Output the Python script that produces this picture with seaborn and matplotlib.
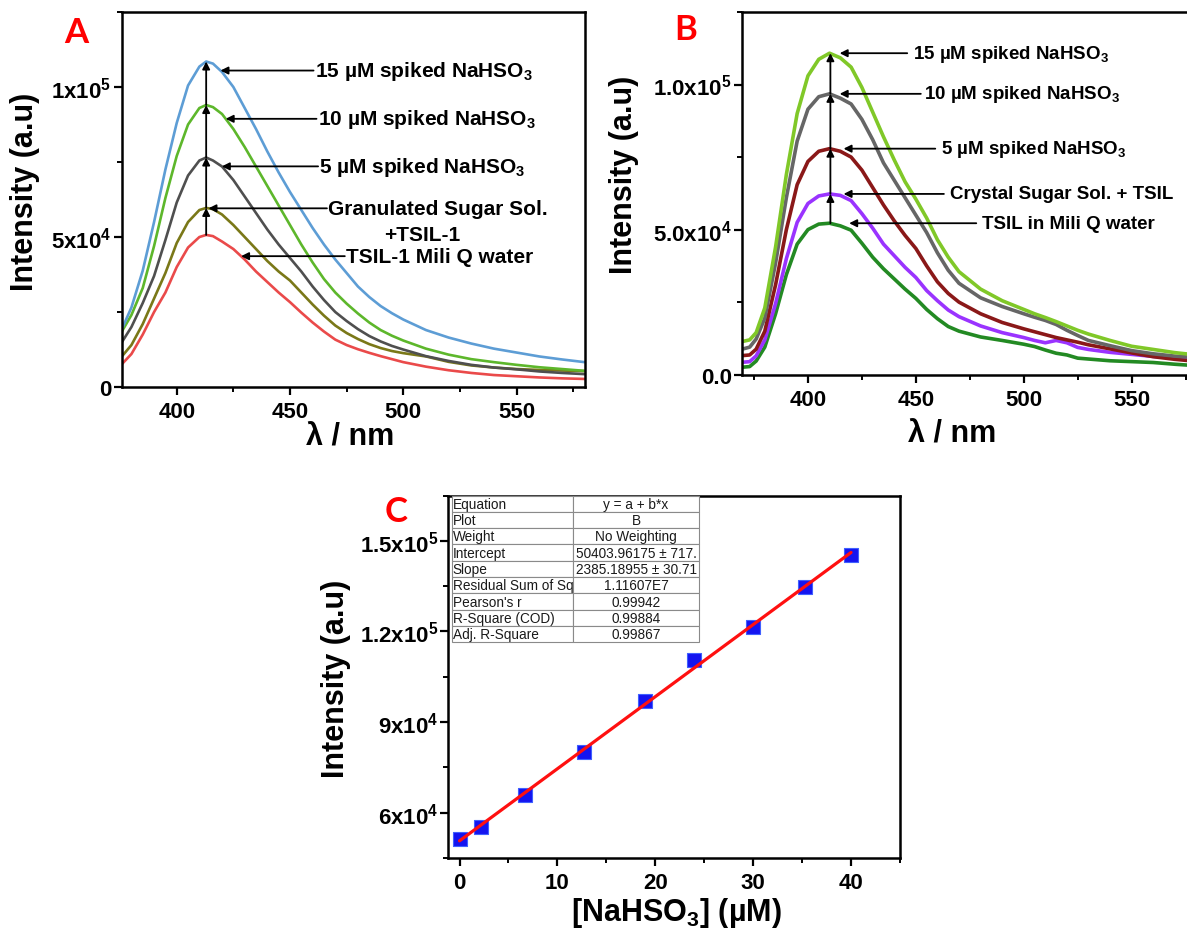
import numpy as np
import seaborn as sns
import matplotlib
matplotlib.use('Agg')
import matplotlib.pyplot as plt
from matplotlib import font_manager
from matplotlib.table import Table
from matplotlib.ticker import MultipleLocator

# ---- panel A : TSIL-1, granulated sugar (intensity in units of 1e3) ----
wl_a = [375, 380, 385, 390, 395, 400, 405, 410, 413, 416, 420, 425, 430, 435, 440, 445,
        450, 455, 460, 465, 470, 475, 480, 485, 490, 495, 500, 510, 520, 530, 540, 550, 560, 570, 580]
a_15uM = [18, 26.5, 38.8, 55, 72.5, 88, 100.5, 106.8, 108.5, 107.8, 105, 100, 93, 86, 78.5, 71.5,
          65, 59, 53, 47.5, 42.5, 38, 33.5, 30, 27, 24.6, 22.5, 19, 16.5, 14.5, 12.8, 11.5, 10.2, 9.2, 8.3]
a_10uM = [17.5, 24, 33, 47, 63, 77, 87.5, 93, 94, 93.3, 91, 86, 80, 73.5, 67, 60.5,
          54, 47.5, 41.5, 36, 31.5, 27.8, 24.5, 21.5, 19, 17.1, 15.5, 12.8, 10.8, 9.3, 8.3, 7.4, 6.6, 6, 5.4]
a_5uM = [14, 20, 28, 37, 49, 61.5, 70.5, 75.5, 76.5, 75.5, 73.5, 69, 63.5, 58, 52.5, 47.5,
         43, 38.5, 33.5, 29, 25, 22, 19.3, 17, 15.2, 13.7, 12.5, 10.3, 8.7, 7.4, 6.5, 5.9, 5.2, 4.7, 4.3]
a_sugar = [9.5, 14, 21, 29.5, 38, 48, 55, 59, 59.7, 59.3, 57.5, 54, 50, 46, 42, 38.5,
           35.5, 31.5, 27.5, 23.8, 20.5, 18, 16, 14.3, 13, 12, 11.3, 10.2, 8.4, 7.2, 6.5, 6, 5.7, 5.5, 5.3]
a_water = [7, 11, 17.5, 25, 31.5, 40, 46.5, 50, 50.7, 50.3, 48.5, 46, 42.5, 38.5, 35, 31.5,
           28.3, 24.8, 21.5, 18.5, 15.8, 14, 12.6, 11.4, 10.3, 9.3, 8.3, 6.8, 5.6, 4.7, 4, 3.6, 3.2, 2.9, 2.7]

# ---- panel B : TSIL, crystal sugar ----
wl_b = [370, 373, 376, 380, 385, 390, 395, 400, 405, 410, 415, 420, 425, 430, 435, 440, 445, 450,
        455, 460, 465, 470, 480, 490, 500, 505, 510, 515, 520, 525, 530, 540, 550, 560, 570, 580]
b_15uM = [11.5, 12, 14.5, 23, 44, 69, 90, 103, 108.7, 110.8, 109.2, 106, 99, 90.5, 82, 74, 66.5, 60.5,
          54, 46.5, 40.5, 35.5, 29.5, 25.5, 22.5, 21, 19.7, 18.3, 16.8, 15.3, 14, 11.8, 9.8, 8.7, 7.6, 6.8]
b_10uM = [8.9, 9.5, 12.3, 19.5, 38.5, 61, 80.5, 91.5, 95.8, 96.8, 95.3, 93.3, 88, 81, 73, 67, 61, 55,
          49, 42, 36, 31.5, 26.5, 23.5, 21, 19.8, 18.7, 17.3, 15.3, 13.5, 11.8, 10, 8.3, 7.2, 6.4, 5.9]
b_5uM = [6.6, 6.8, 8.8, 15, 31, 50, 65.5, 73.5, 77, 77.9, 77, 75, 70.5, 64.5, 58.5, 53, 48, 43.5,
         37.5, 32, 28, 25, 21, 18, 15.8, 14.8, 13.8, 12.8, 12, 11.2, 10.3, 8.9, 7.5, 6.2, 5.3, 4.6]
b_sugar = [4.3, 4.5, 6.5, 12, 24.5, 40, 52.5, 59, 61.6, 62.3, 61.8, 60, 55.5, 50.5, 45, 41, 37, 33.5,
           29, 25.5, 22.3, 20, 16.8, 14.5, 12.8, 11.8, 11, 11.8, 11, 9.4, 8.7, 7.7, 7, 6.3, 5.8, 5.3]
b_water = [2.6, 2.8, 4.7, 9.5, 21, 34.5, 45, 50, 51.9, 52.2, 51.3, 49.8, 45.3, 40.5, 36.5, 33, 29.5, 26.3,
           22.5, 19.3, 16.6, 15, 13, 11.8, 10.5, 9.7, 8.5, 7.4, 6.8, 5.7, 5.4, 4.8, 4.5, 4.2, 3.6, 3.1]

# ---- panel C : calibration ----
conc = [0, 2.2, 6.7, 12.7, 19.0, 24.0, 30.0, 35.3, 40.0]
intensity = [51200, 55400, 66000, 80000, 96900, 110500, 121500, 134800, 145400]
fit_rows = [("Equation", "y = a + b*x"), ("Plot", "B"), ("Weight", "No Weighting"),
            ("Intercept", "50403.96175 \u00b1 717."), ("Slope", "2385.18955 \u00b1 30.71"),
            ("Residual Sum of Sq", "1.11607E7"), ("Pearson's r", "0.99942"),
            ("R-Square (COD)", "0.99884"), ("Adj. R-Square", "0.99867")]

labels_a = ["15 \u00b5M spiked NaHSO$_3$", "10 \u00b5M spiked NaHSO$_3$", "5 \u00b5M spiked NaHSO$_3$",
            "Granulated Sugar Sol.", "TSIL-1 Mili Q water"]
labels_b = ["15 \u00b5M spiked NaHSO$_3$", "10 \u00b5M spiked NaHSO$_3$", "5 \u00b5M spiked NaHSO$_3$",
            "Crystal Sugar Sol. + TSIL", "TSIL in Mili Q water"]

sns.set_style('ticks')
plt.rcParams['font.family'] = ['Liberation Sans', 'DejaVu Sans']
plt.rcParams['mathtext.default'] = 'regular'
for key in ['text.color', 'axes.labelcolor', 'xtick.color', 'ytick.color', 'axes.edgecolor']:
    plt.rcParams[key] = 'black'
names = {f.name for f in font_manager.fontManager.ttflist}
narrow = 'Liberation Sans Narrow' if 'Liberation Sans Narrow' in names else 'Liberation Sans'
tick_font = dict(fontsize=16, fontweight='bold', family=[narrow, 'DejaVu Sans'])

fig = plt.figure(figsize=(11.87, 9.29), dpi=100)
axA = fig.add_axes([0.1025, 0.5823, 0.3907, 0.4037])
axB = fig.add_axes([0.6254, 0.5956, 0.3825, 0.3904])
axC = fig.add_axes([0.3778, 0.0753, 0.3804, 0.3902])


def style_axis(ax):
    for s in ax.spines.values():
        s.set_linewidth(1.8)
        s.set_color('black')
    ax.tick_params(which='major', direction='out', length=6, width=1.6, top=False, right=False)
    ax.tick_params(which='minor', direction='out', length=3.5, width=1.4, top=False, right=False)
    ax.tick_params(axis='y', pad=1.5)
    ax.tick_params(axis='x', pad=4)


def arrow(ax, xy, xytext):
    ax.annotate('', xy=xy, xytext=xytext, zorder=5,
                arrowprops=dict(arrowstyle='-|>', color='black', lw=1.3,
                                mutation_scale=11, shrinkA=0, shrinkB=0))


# ---------------- A ----------------
series_a = [(a_water, '#ea4a4a'), (a_sugar, '#7a7818'), (a_5uM, '#4f4f4f'),
            (a_10uM, '#5db72b'), (a_15uM, '#5d9dd5')]
for vals, col in series_a:
    sns.lineplot(x=wl_a, y=np.array(vals) * 1000, ax=axA, color=col, linewidth=1.9)
axA.set_xlim(375.7, 580.4)
axA.set_ylim(0, 125000)
axA.set_xticks([400, 450, 500, 550], labels=['400', '450', '500', '550'], **tick_font)
axA.set_yticks([0, 50000, 100000], labels=['0', '5x10$^4$', '1x10$^5$'], **tick_font)
axA.xaxis.set_minor_locator(MultipleLocator(25))
axA.yaxis.set_minor_locator(MultipleLocator(25000))
style_axis(axA)

peak_x = wl_a[int(np.argmax(a_water))]
peaks = [max(v) * 1000 for v, _ in series_a]
for lo, hi in zip(peaks[:-1], peaks[1:]):
    arrow(axA, (peak_x, hi), (peak_x, lo))
curves_a = [a_15uM, a_10uM, a_5uM, a_sugar, a_water]
tips_a = [419.3, 421.6, 419.9, 414.0, 428.4]
text_a = [461.0, 462.3, 463.0, 466.9, 474.8]
for lab, vals, tip, tx in zip(labels_a, curves_a, tips_a, text_a):
    y = np.interp(tip, wl_a, vals) * 1000
    arrow(axA, (tip, y), (tx - 0.6, y))
    axA.text(tx, y, lab, fontsize=15, fontweight='bold', ha='left', va='center')
axA.text(508.3, 51000, '+TSIL-1', fontsize=15, fontweight='bold', ha='center', va='center')
axA.set_xlabel('\u03bb / nm', fontsize=22, fontweight='bold', va='center')
axA.set_ylabel('Intensity (a.u)', fontsize=22, fontweight='bold', va='center')
axA.xaxis.set_label_coords(0.492, -0.133)
axA.yaxis.set_label_coords(-0.2085, 0.524)

# ---------------- B ----------------
series_b = [(b_water, '#238a23'), (b_sugar, '#9a33ff'), (b_5uM, '#8a1818'),
            (b_10uM, '#666666'), (b_15uM, '#80c828')]
for vals, col in series_b:
    sns.lineplot(x=wl_b, y=np.array(vals) * 1000, ax=axB, color=col, linewidth=2.6)
axB.set_xlim(369.6, 580)
axB.set_ylim(0, 125000)
axB.set_xticks([400, 450, 500, 550], labels=['400', '450', '500', '550'], **tick_font)
axB.set_yticks([0, 50000, 100000], labels=['0.0', '5.0x10$^4$', '1.0x10$^5$'], **tick_font)
axB.xaxis.set_minor_locator(MultipleLocator(25))
axB.yaxis.set_minor_locator(MultipleLocator(25000))
style_axis(axB)
axB.spines['right'].set_visible(False)

peak_xb = 410.4
peaks_b = [max(v) * 1000 for v, _ in series_b]
for lo, hi in zip(peaks_b[:-1], peaks_b[1:]):
    arrow(axB, (peak_xb, hi), (peak_xb, lo))
curves_b = [b_15uM, b_10uM, b_5uM, b_sugar, b_water]
tips_b = [414.7, 414.7, 416.5, 416.5, 419.1]
tails_b = [446.0, 452.3, 459.0, 463.0, 478.0]
text_b = [448.7, 454.0, 461.8, 466.0, 480.7]
for lab, vals, tip, tail, tx in zip(labels_b, curves_b, tips_b, tails_b, text_b):
    y = max(vals) * 1000
    arrow(axB, (tip, y), (tail, y))
    axB.text(tx, y, lab, fontsize=13.5, fontweight='bold', ha='left', va='center')
axB.set_xlabel('\u03bb / nm', fontsize=22, fontweight='bold', va='center')
axB.set_ylabel('Intensity (a.u)', fontsize=22, fontweight='bold', va='center')
axB.xaxis.set_label_coords(0.461, -0.161)
axB.yaxis.set_label_coords(-0.26, 0.553)

# ---------------- C ----------------
sns.regplot(x=conc, y=intensity, ax=axC, ci=None, marker='s', color='#1414f0',
            scatter_kws=dict(s=105, edgecolor='#4060ff', linewidths=0.8, alpha=1, zorder=3),
            line_kws=dict(color='#ff1010', lw=2.3, zorder=4))
axC.set_xlim(-1.13, 45)
axC.set_ylim(45000, 165000)
axC.set_xticks([0, 10, 20, 30, 40], labels=['0', '10', '20', '30', '40'], **tick_font)
axC.set_yticks([60000, 90000, 120000, 150000],
               labels=['6x10$^4$', '9x10$^4$', '1.2x10$^5$', '1.5x10$^5$'], **tick_font)
axC.xaxis.set_minor_locator(MultipleLocator(5))
axC.yaxis.set_minor_locator(MultipleLocator(15000))
style_axis(axC)
axC.set_xlabel('[NaHSO$_3$] (\u00b5M)', fontsize=22, fontweight='bold', va='center')
axC.set_ylabel('Intensity (a.u)', fontsize=22, fontweight='bold', va='center')
axC.xaxis.set_label_coords(0.504, -0.149)
axC.yaxis.set_label_coords(-0.25, 0.498)

tab = Table(axC, bbox=[0.007, 0.595, 0.548, 0.405])
for i, (k, v) in enumerate(fit_rows):
    tab.add_cell(i, 0, 0.491, 1, text=k, loc='left', edgecolor='#8a8a8a', facecolor='white')
    tab.add_cell(i, 1, 0.509, 1, text=v, loc='center', edgecolor='#8a8a8a', facecolor='white')
tab.auto_set_font_size(False)
tab.set_fontsize(9.8)
for cell in tab.get_celld().values():
    cell.set_linewidth(0.8)
    cell.PAD = 0.01
    cell.get_text().set_color('#1a1a1a')
tab.set_zorder(6)
axC.add_table(tab)

# panel letters
for letter, (x, y) in zip('ABC', [(0.0644, 0.9645), (0.578, 0.9677), (0.3334, 0.4492)]):
    fig.text(x, y, letter, color='#ff0000', fontsize=25, fontweight='bold',
             family=['Lato', 'DejaVu Sans'], ha='center', va='center')

fig.savefig('out.png', dpi=100, facecolor='white')
